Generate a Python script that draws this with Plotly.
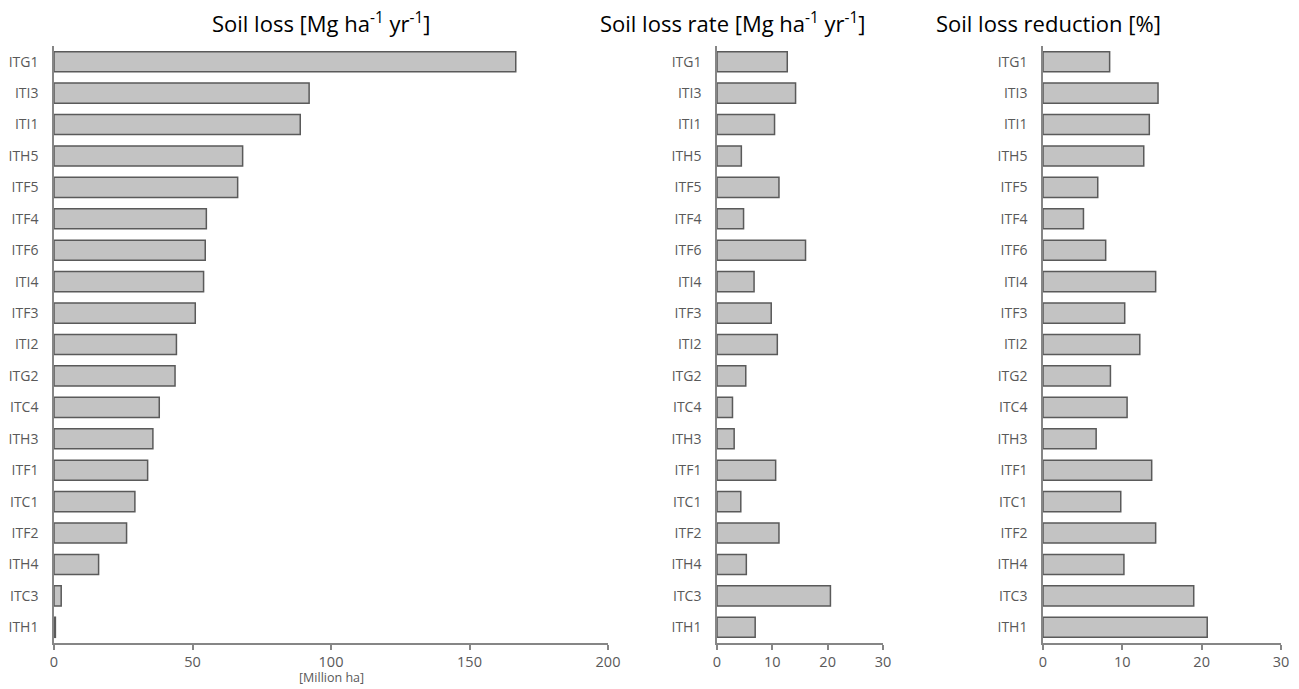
import plotly.graph_objects as go

categories = ["ITG1", "ITI3", "ITI1", "ITH5", "ITF5", "ITF4", "ITF6", "ITI4", "ITF3", "ITI2",
              "ITG2", "ITC4", "ITH3", "ITF1", "ITC1", "ITF2", "ITH4", "ITC3", "ITH1"]

soil_loss = [166.7, 92.1, 88.9, 68.1, 66.3, 55.0, 54.6, 54.0, 51.0, 44.2,
             43.7, 38.0, 35.7, 33.8, 29.2, 26.2, 16.1, 2.6, 0.5]

soil_loss_rate = [12.7, 14.2, 10.4, 4.4, 11.2, 4.8, 16.0, 6.7, 9.8, 10.9,
                  5.2, 2.8, 3.1, 10.6, 4.3, 11.2, 5.3, 20.5, 6.9]

soil_loss_reduction = [8.4, 14.5, 13.4, 12.7, 6.9, 5.1, 7.9, 14.2, 10.3, 12.2,
                       8.5, 10.6, 6.7, 13.7, 9.8, 14.2, 10.2, 19.0, 20.7]

titles = ["Soil loss [Mg ha<sup>-1</sup> yr<sup>-1</sup>]",
          "Soil loss rate [Mg ha<sup>-1</sup> yr<sup>-1</sup>]",
          "Soil loss reduction [%]"]

W, H = 1299, 689
FONT = "Open Sans"
FILL = "#c3c3c3"
EDGE = "#5a5a5a"
AXIS = "#868686"
TICK = "#595959"


def px(x):
    return x / W


def py(y):
    return 1 - y / H


panels = [
    (soil_loss, (54, 608), [0, 200], [0, 50, 100, 150, 200]),
    (soil_loss_rate, (717, 883), [0, 30], [0, 10, 20, 30]),
    (soil_loss_reduction, (1043, 1281), [0, 30], [0, 10, 20, 30]),
]
title_x = [321, 733, 1048]

top_px, bot_px = 46, 643
ydom = [py(bot_px), py(top_px)]

fig = go.Figure()
layout = dict(
    width=W, height=H,
    margin=dict(l=0, r=0, t=0, b=0),
    paper_bgcolor="white", plot_bgcolor="white",
    showlegend=False,
    bargap=0.36,
    font=dict(family=FONT, color=TICK, size=13),
)

for i, (vals, (x0, x1), rng, ticks) in enumerate(panels):
    n = "" if i == 0 else str(i + 1)
    fig.add_trace(go.Bar(
        x=vals, y=categories, orientation="h",
        marker=dict(color=FILL, line=dict(color=EDGE, width=1.5)),
        xaxis="x" + n, yaxis="y" + n,
        hoverinfo="x+y",
    ))
    layout["xaxis" + n] = dict(
        domain=[px(x0), px(x1)], range=rng, tickvals=ticks,
        showgrid=False, zeroline=False, showline=True, linecolor=AXIS, linewidth=1.5,
        ticks="outside", ticklen=5, tickcolor=AXIS, tickwidth=1.5,
        tickfont=dict(family=FONT, size=14.5, color=TICK),
        anchor="y" + n, automargin=False, fixedrange=True,
    )
    layout["yaxis" + n] = dict(
        domain=ydom, type="category", categoryorder="array", categoryarray=categories,
        range=[len(categories) - 0.5, -0.5],
        showgrid=False, zeroline=False, showline=True, linecolor=AXIS, linewidth=1.5,
        ticks="", ticklabelstandoff=11,
        tickfont=dict(family=FONT, size=14, color=TICK),
        anchor="x" + n, automargin=False, fixedrange=True,
    )

annotations = []
for t, tx in zip(titles, title_x):
    annotations.append(dict(
        text=t, x=px(tx), y=py(23), xref="paper", yref="paper",
        xanchor="center", yanchor="middle", showarrow=False,
        font=dict(family=FONT, size=22, color="#000000"),
    ))
annotations.append(dict(
    text="[Million ha]", x=px(331), y=py(677), xref="paper", yref="paper",
    xanchor="center", yanchor="middle", showarrow=False,
    font=dict(family=FONT, size=12.5, color=TICK),
))
layout["annotations"] = annotations

fig.update_layout(**layout)
fig.write_html(
    "out.html",
    config={"displayModeBar": False},
    post_script="document.body.style.margin='0';document.body.style.overflow='hidden';",
)
